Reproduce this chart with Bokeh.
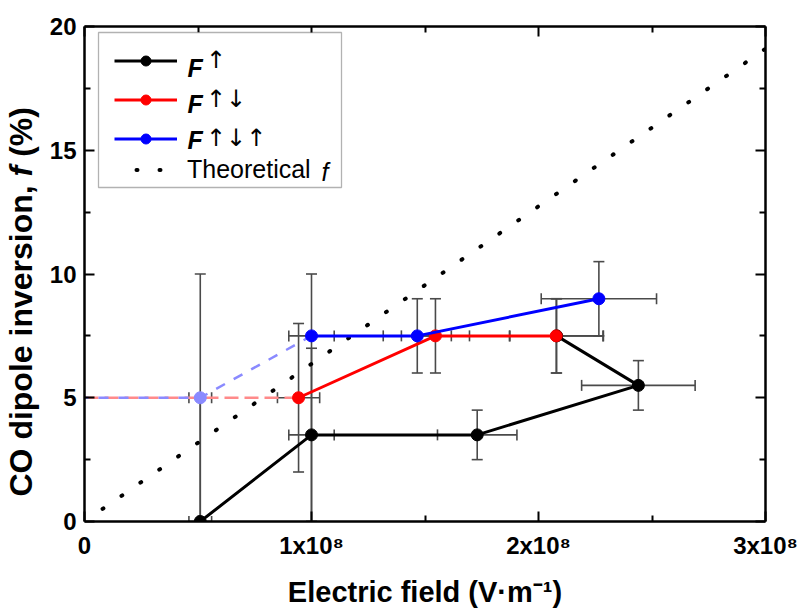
import numpy as np
from bokeh.plotting import figure
from bokeh.layouts import row
from bokeh.models import (ColumnDataSource, Whisker, TeeHead, FixedTicker, LinearAxis,
                          Legend, LegendItem, Label, BoxAnnotation, Range1d)
from bokeh.embed import file_html
from bokeh.resources import INLINE

# ---------------- data ----------------
x_ticks = [0, 1e8, 2e8, 3e8]
x_minor = [0.5e8, 1.5e8, 2.5e8]
x_tick_labels = ["0", "1x10⁸", "2x10⁸", "3x10⁸"]
y_ticks = [0, 5, 10, 15, 20]
y_minor = [2.5, 7.5, 12.5, 17.5]
y_tick_labels = ["0", "5", "10", "15", "20"]

# F ↑ (black)
up_x = [0.51e8, 1.00e8, 1.73e8, 2.44e8, 2.08e8]
up_y = [0.0, 3.5, 3.5, 5.5, 7.5]
up_xerr = [0.05e8, 0.10e8, 0.175e8, 0.25e8, 0.206e8]
up_yerr_lo = [0.0, 3.5, 1.0, 1.0, 1.5]
up_yerr_hi = [5.0, 3.5, 1.0, 1.0, 1.5]

# F ↑↓ (red)
ud_x = [0.943e8, 1.546e8, 2.078e8]
ud_y = [5.0, 7.5, 7.5]
ud_xerr = [0.093e8, 0.15e8, 0.206e8]
ud_yerr = [3.0, 1.5, 1.5]

# F ↑↓↑ (blue)
udu_x = [1.00e8, 1.466e8, 2.266e8]
udu_y = [7.5, 7.5, 9.0]
udu_xerr = [0.10e8, 0.15e8, 0.254e8]
udu_yerr_lo = [7.5, 1.5, 1.5]
udu_yerr_hi = [2.5, 1.5, 1.5]

# faded (extrapolated) parts
ud_ext_x = [0.0, 0.943e8]
ud_ext_y = [5.0, 5.0]
udu_ext_x = [0.0, 0.51e8, 1.00e8]
udu_ext_y = [5.0, 5.0, 7.5]
udu_ext_pt_x = [0.51e8]
udu_ext_pt_y = [5.0]
udu_ext_pt_xerr = [0.05e8]
udu_ext_pt_yerr = [5.0]

# theoretical f
theory_x = [0.0, 3e8]
theory_y = [0.0, 19.1]

# ---------------- styling ----------------
FONT = "Liberation Sans"
ERR = "#4a4a4a"
FRAME_L, FRAME_R, FRAME_T, FRAME_B = 84, 765, 26, 522
W, H = 799, 610
LW = 46  # width of the strip holding the y-axis title

p = figure(width=W - LW, height=H, x_range=Range1d(0, 3e8), y_range=Range1d(0, 20),
           output_backend="svg", toolbar_location=None,
           min_border_left=FRAME_L - LW, min_border_right=W - FRAME_R,
           min_border_top=FRAME_T, min_border_bottom=H - FRAME_B)
p.outline_line_color = None
p.xgrid.visible = False
p.ygrid.visible = False
p.background_fill_color = "white"
p.border_fill_color = "white"

xt = FixedTicker(ticks=x_ticks, minor_ticks=x_minor)
yt = FixedTicker(ticks=y_ticks, minor_ticks=y_minor)


def style_axis(ax, ticker, labels=None, ticks=None):
    ax.ticker = ticker
    ax.axis_line_width = 2.5
    ax.axis_line_color = "black"
    ax.major_tick_in = 10
    ax.major_tick_out = 0
    ax.minor_tick_in = 6
    ax.minor_tick_out = 0
    ax.major_tick_line_width = 2
    ax.minor_tick_line_width = 2
    if labels is not None:
        ax.major_label_overrides = {t: l for t, l in zip(ticks, labels)}
        ax.major_label_text_font = FONT
        ax.major_label_text_font_style = "bold"
        ax.major_label_text_font_size = "24px"
        ax.major_label_text_color = "black"
    else:
        ax.major_label_overrides = {t: "" for t in ticker.ticks}
        ax.major_label_text_font_size = "0px"


xa = p.xaxis[0]
ya = p.yaxis[0]
style_axis(xa, xt, x_tick_labels, x_ticks)
style_axis(ya, yt, y_tick_labels, y_ticks)
xa.major_label_standoff = 10
ya.major_label_standoff = 8
xa.axis_label = "Electric field (V·m⁻¹)"
xa.axis_label_text_font = FONT
xa.axis_label_text_font_style = "bold"
xa.axis_label_text_font_size = "29px"
xa.axis_label_text_color = "black"
xa.axis_label_standoff = 14

top_ax = LinearAxis()
style_axis(top_ax, xt)
p.add_layout(top_ax, "above")
right_ax = LinearAxis()
style_axis(right_ax, yt)
p.add_layout(right_ax, "right")

# ---------------- y-axis title strip (italic f) ----------------
q = figure(width=LW, height=H, x_range=Range1d(0, 1), y_range=Range1d(0, 1),
           output_backend="svg", toolbar_location=None,
           x_axis_location=None, y_axis_location=None, min_border=0)
q.outline_line_color = None
q.xgrid.visible = False
q.ygrid.visible = False
q.background_fill_color = "white"
q.border_fill_color = "white"

YL = 32
y_pieces = [("CO dipole inversion,", "bold", 9.725 + 0.278),
            ("f", "bold italic", 0.333 + 0.278),
            ("(%)", "bold", 1.555)]
pos = FRAME_B - 497.0   # frames of the row are aligned with the main plot's frame
for txt, style, adv in y_pieces:
    q.add_layout(Label(x=20, y=pos, x_units="screen", y_units="screen",
                       text=txt, angle=np.pi / 2, text_font=FONT, text_font_style=style,
                       text_font_size=f"{YL}px", text_baseline="alphabetic",
                       text_align="left", text_color="black"))
    pos += adv * YL

# ---------------- error bars ----------------
def add_errors(xs, ys, xerr, ylo, yhi, color=ERR, alpha=1.0):
    xs = np.asarray(xs); ys = np.asarray(ys)
    src = ColumnDataSource(dict(
        x=xs, y=ys,
        xl=xs - np.asarray(xerr), xu=xs + np.asarray(xerr),
        yl=np.clip(ys - np.asarray(ylo), 0, None), yu=ys + np.asarray(yhi)))
    for base, lo, hi, dim in (("x", "yl", "yu", "height"), ("y", "xl", "xu", "width")):
        w = Whisker(source=src, base=base, lower=lo, upper=hi, dimension=dim,
                    line_color=color, line_width=1.6, line_alpha=alpha,
                    upper_head=TeeHead(size=11, line_color=color, line_width=1.6, line_alpha=alpha),
                    lower_head=TeeHead(size=11, line_color=color, line_width=1.6, line_alpha=alpha),
                    level="underlay")
        p.add_layout(w)


add_errors(up_x, up_y, up_xerr, up_yerr_lo, up_yerr_hi)
add_errors(ud_x, ud_y, ud_xerr, ud_yerr, ud_yerr)
add_errors(udu_x, udu_y, udu_xerr, udu_yerr_lo, udu_yerr_hi)
add_errors(udu_ext_pt_x, udu_ext_pt_y, udu_ext_pt_xerr, udu_ext_pt_yerr, udu_ext_pt_yerr)

# ---------------- glyphs ----------------
r_theory = p.line(theory_x, theory_y, line_color="black", line_width=4,
                  line_dash="1 22", line_dash_offset=1, line_cap="round")

p.line(ud_ext_x, ud_ext_y, line_color="#ff8a8a", line_width=2.5, line_dash="14 6")
p.line(udu_ext_x, udu_ext_y, line_color="#8a8aff", line_width=2.5, line_dash="10 10",
       line_dash_offset=6)
p.scatter(udu_ext_pt_x, udu_ext_pt_y, size=12, marker="circle",
          fill_color="#8a8aff", line_color="#8a8aff")

r_up_l = p.line(up_x, up_y, line_color="black", line_width=3)
r_up_p = p.scatter(up_x, up_y, size=12, marker="circle", fill_color="black", line_color="black")
r_ud_l = p.line(ud_x, ud_y, line_color="#ff0000", line_width=3)
r_ud_p = p.scatter(ud_x, ud_y, size=12, marker="circle", fill_color="#ff0000", line_color="#ff0000")
r_udu_l = p.line(udu_x, udu_y, line_color="#0000ff", line_width=3)
r_udu_p = p.scatter(udu_x, udu_y, size=12, marker="circle", fill_color="#0000ff", line_color="#0000ff")

# ---------------- legend ----------------
LEG_FS = "25px"
box = BoxAnnotation(left=98 - FRAME_L, right=341 - FRAME_L,
                    top=FRAME_B - 33, bottom=FRAME_B - 188,
                    left_units="screen", right_units="screen",
                    top_units="screen", bottom_units="screen",
                    fill_color="white", fill_alpha=1.0,
                    line_color="black", line_width=1.3)
p.add_layout(box)

leg_a = Legend(items=[LegendItem(label="↑", renderers=[r_up_l, r_up_p]),
                      LegendItem(label="↑↓", renderers=[r_ud_l, r_ud_p]),
                      LegendItem(label="↑↓↑", renderers=[r_udu_l, r_udu_p])],
               location=(30, 369), padding=0, spacing=11, margin=0,
               label_height=25, glyph_height=25, glyph_width=63, label_standoff=29,
               label_text_font="DejaVu Sans", label_text_font_size="24px",
               label_text_color="black",
               border_line_color=None, background_fill_alpha=0)
leg_b = Legend(items=[LegendItem(label="Theoretical", renderers=[r_theory])],
               location=(30, 337), padding=0, spacing=0, margin=0,
               label_height=25, glyph_height=25, glyph_width=63, label_standoff=10,
               label_text_font=FONT, label_text_font_size=LEG_FS,
               label_text_color="black",
               border_line_color=None, background_fill_alpha=0)
p.add_layout(leg_a)
p.add_layout(leg_b)

for cy in (68.5, 104.5, 140.5):
    p.add_layout(Label(x=187 - FRAME_L, y=FRAME_B - cy, x_units="screen", y_units="screen",
                       text="F", text_font=FONT, text_font_style="bold italic",
                       text_font_size=LEG_FS, text_baseline="middle", text_align="left",
                       text_color="black"))
p.add_layout(Label(x=321 - FRAME_L, y=FRAME_B - 172, x_units="screen", y_units="screen",
                   text="f", text_font=FONT, text_font_style="italic",
                   text_font_size=LEG_FS, text_baseline="middle", text_align="left",
                   text_color="black"))

layout = row(q, p, spacing=0)
open("out.html", "w").write(file_html(layout, INLINE))
